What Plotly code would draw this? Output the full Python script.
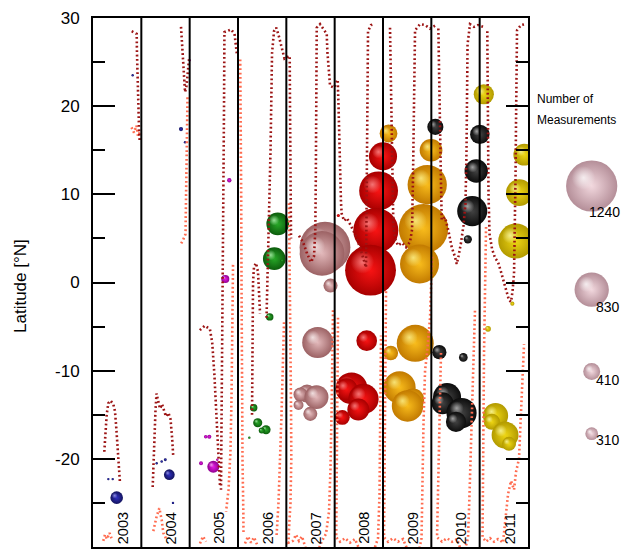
import plotly.graph_objects as go

# ---------------- cruise tracks (decimal year, latitude) ----------------
# dark red tracks
trk_2003a_t = [2003.801, 2003.904, 2003.910, 2003.921, 2003.931, 2003.952, 2003.966]
trk_2003a_lat = [28.5, 28.2, 26.0, 23.0, 20.0, 17.5, 16.0]
trk_2003b_t = [2003.234, 2003.259, 2003.283, 2003.317, 2003.362, 2003.420, 2003.455, 2003.482, 2003.507, 2003.532, 2003.559]
trk_2003b_lat = [-19.2, -17.0, -15.0, -13.7, -13.4, -13.8, -14.6, -16.5, -18.5, -20.5, -22.8]
trk_2004a_t = [2004.821, 2004.842, 2004.862, 2004.883, 2004.904, 2004.935, 2004.966, 2004.986]
trk_2004a_lat = [29.0, 27.0, 25.0, 23.0, 21.6, 22.3, 24.0, 25.3]
trk_2004b_t = [2004.235, 2004.252, 2004.273, 2004.293, 2004.314, 2004.345, 2004.386, 2004.428, 2004.469, 2004.510, 2004.562, 2004.604, 2004.635, 2004.661]
trk_2004b_lat = [-23.2, -20.0, -17.0, -14.5, -12.6, -13.3, -14.3, -13.8, -14.6, -15.2, -14.8, -15.5, -17.5, -19.8]
trk_2005a_t = [2005.975, 2005.955, 2005.928, 2005.857, 2005.719, 2005.711, 2005.700, 2005.690, 2005.679, 2005.669, 2005.659, 2005.648]
trk_2005a_lat = [26.0, 27.2, 28.2, 28.7, 28.4, 20.0, 12.0, 4.0, -3.0, -10.0, -17.0, -23.5]
trk_2005b_t = [2005.210, 2005.313, 2005.419, 2005.466, 2005.510, 2005.557, 2005.593, 2005.628]
trk_2005b_lat = [-5.4, -4.9, -5.3, -6.8, -10.3, -16.1, -20.0, -23.1]
trk_2006a_t = [2006.590, 2006.600, 2006.621, 2006.648, 2006.673, 2006.693, 2006.704, 2006.745, 2006.791, 2006.842,
               2006.884, 2006.925, 2006.962, 2007.024, 2007.070, 2007.076, 2007.082, 2007.089, 2007.097]
trk_2006a_lat = [-4.0, -2.0, 2.0, 8.0, 15.0, 22.0, 26.0, 28.5, 28.9, 28.0, 27.2, 26.2, 25.4, 25.6, 25.7, 20.0, 15.0, 10.0, 5.0]
trk_2006b_t = [2006.290, 2006.296, 2006.302, 2006.311, 2006.331, 2006.373, 2006.414, 2006.435, 2006.456]
trk_2006b_lat = [-15.0, -10.0, -5.0, 0.0, 1.8, 2.2, 1.2, -1.0, -3.5]
trk_2007_t = [2007.262, 2007.345, 2007.428, 2007.511, 2007.573, 2007.600, 2007.610, 2007.620, 2007.629, 2007.697,
              2007.765, 2007.836, 2007.848, 2007.869, 2007.904, 2007.987, 2008.063, 2008.080, 2008.090, 2008.101,
              2008.111, 2008.131, 2008.146, 2008.193, 2008.256, 2008.318, 2008.421, 2008.524, 2008.607, 2008.649,
              2008.659, 2008.669, 2008.680, 2008.690, 2008.752, 2008.814]
trk_2007_lat = [5.3, 4.6, 3.3, 2.3, 3.0, 6.0, 12.0, 20.0, 28.9, 29.3, 28.8, 28.2, 26.3, 24.5, 22.3, 22.1, 23.0, 20.0,
                16.9, 14.0, 11.2, 9.0, 7.8, 7.0, 7.3, 6.6, 5.5, 4.0, 2.5, 1.7, 8.0, 15.0, 22.0, 28.5, 29.2, 29.3]
trk_2009_t = [2009.145, 2009.160, 2009.176, 2009.197, 2009.214, 2009.249, 2009.311, 2009.394, 2009.476, 2009.559,
              2009.601, 2009.621, 2009.636, 2009.648, 2009.663, 2009.766, 2009.870, 2009.973, 2010.097]
trk_2009_lat = [28.9, 24.0, 18.0, 12.0, 6.5, 5.0, 4.2, 4.5, 4.0, 4.6, 6.0, 12.0, 18.0, 24.0, 28.6, 29.3, 29.2, 28.8, 29.2]
trk_2010_t = [2010.145, 2010.159, 2010.180, 2010.201, 2010.215, 2010.283, 2010.352, 2010.422, 2010.490, 2010.525,
              2010.563, 2010.614, 2010.666, 2010.707, 2010.728, 2010.738, 2010.749, 2010.800, 2010.883, 2010.966, 2011.069]
trk_2010_lat = [28.8, 23.0, 17.0, 11.0, 7.1, 7.4, 5.9, 4.0, 2.9, 2.1, 3.0, 4.5, 6.5, 9.0, 15.0, 21.0, 27.0, 29.3, 29.0, 29.2, 29.0]
trk_2011_t = [2011.158, 2011.162, 2011.173, 2011.183, 2011.204, 2011.256, 2011.318, 2011.380, 2011.442, 2011.504,
              2011.566, 2011.607, 2011.649, 2011.680, 2011.711, 2011.732, 2011.742, 2011.752, 2011.763, 2011.773,
              2011.856, 2011.938]
trk_2011_lat = [28.5, 22.0, 16.0, 10.0, 5.5, 3.8, 2.8, 2.3, 1.2, 0.0, -1.0, -2.0, -2.2, -1.0, 1.0, 6.0, 12.0, 18.0,
                24.0, 28.6, 29.2, 29.3]

# orange tracks
leg_2003a_t = [2003.797, 2003.848, 2003.900, 2003.931, 2003.983]
leg_2003a_lat = [17.6, 17.0, 17.8, 16.6, 17.2]
leg_2003b_t = [2003.213, 2003.248, 2003.290, 2003.341, 2003.383]
leg_2003b_lat = [-29.3, -28.6, -29.1, -28.4, -29.0]
leg_2004a_t = [2004.955, 2004.945, 2004.935, 2004.924, 2004.914, 2004.862, 2004.821]
leg_2004a_lat = [21.0, 17.0, 13.0, 9.0, 5.5, 4.8, 4.4]
leg_2004b_t = [2004.248, 2004.318, 2004.372, 2004.421, 2004.455, 2004.525]
leg_2004b_lat = [-28.2, -26.5, -25.6, -26.9, -28.4, -29.2]
leg_2005a_t = [2005.897, 2005.886, 2005.866, 2005.845, 2005.804, 2005.752]
leg_2005a_lat = [2.0, -6.0, -13.0, -19.0, -23.5, -26.0]
leg_2005b_t = [2005.214, 2005.276, 2005.338]
leg_2005b_lat = [-29.6, -28.8, -29.4]
leg_2006a_t = [2006.046, 2006.058, 2006.066, 2006.073, 2006.079, 2006.093, 2006.110, 2006.114]
leg_2006a_lat = [25.3, 20.0, 10.0, 0.0, -10.0, -20.0, -26.0, -28.5]
leg_2006b_t = [2006.145, 2006.207, 2006.269, 2006.331, 2006.393]
leg_2006b_lat = [-29.6, -28.8, -29.5, -28.9, -29.7]
leg_2006c_t = [2006.952, 2006.931, 2006.900, 2006.869, 2006.838, 2006.797]
leg_2006c_lat = [-4.5, -10.0, -15.0, -20.0, -25.0, -28.8]
leg_2007_t = [2007.055, 2007.066, 2007.076, 2007.086, 2007.097, 2007.103, 2007.086, 2007.055, 2007.045, 2007.138,
              2007.200, 2007.262, 2007.324, 2007.449, 2007.614, 2007.738, 2007.821, 2007.883, 2007.914, 2007.935,
              2007.956, 2007.966]
leg_2007_lat = [9.0, 4.0, -2.0, -8.0, -14.0, -20.0, -25.0, -28.0, -29.5, -29.3, -28.6, -29.3, -28.8, -31.0, -31.0,
                -29.3, -28.5, -26.0, -21.0, -15.0, -9.0, -3.0]
leg_2008_t = [2008.069, 2008.059, 2008.049, 2008.038, 2008.032, 2008.111, 2008.214, 2008.318, 2008.421, 2008.566,
              2008.773, 2008.897, 2008.928, 2008.938, 2008.949, 2008.959]
leg_2008_lat = [-4.0, -10.0, -17.0, -24.0, -28.9, -29.4, -29.0, -29.5, -29.1, -31.0, -31.0, -29.0, -24.0, -18.0, -12.0, -6.0]
leg_2009_t = [2009.062, 2009.052, 2009.042, 2009.031, 2009.021, 2009.104, 2009.207, 2009.311, 2009.414, 2009.559,
              2009.725, 2009.797, 2009.818, 2009.838, 2009.870, 2009.911, 2009.973, 2010.004, 2010.014]
leg_2009_lat = [-1.0, -8.0, -15.0, -22.0, -28.9, -29.4, -29.0, -29.4, -29.1, -31.0, -31.0, -29.0, -22.0, -16.0,
                -10.0, -8.0, -4.0, 0.0, 3.0]
leg_2010_t = [2010.200, 2010.180, 2010.159, 2010.139, 2010.118, 2010.221, 2010.325, 2010.428, 2010.531, 2010.656,
              2010.759, 2010.790, 2010.821, 2010.852, 2010.883, 2010.904]
leg_2010_lat = [-8.0, -14.0, -20.0, -25.0, -28.9, -29.4, -29.0, -29.4, -29.1, -31.0, -29.0, -24.0, -18.0, -12.0, -6.0, -3.0]
leg_2011_t = [2011.132, 2011.111, 2011.090, 2011.080, 2011.069, 2011.059, 2011.132, 2011.214, 2011.297, 2011.380,
              2011.483, 2011.545, 2011.587, 2011.649, 2011.711, 2011.752, 2011.814, 2011.845, 2011.876, 2011.918]
leg_2011_lat = [6.3, 0.0, -8.0, -15.0, -22.0, -28.9, -29.4, -29.0, -29.4, -29.1, -29.5, -26.0, -24.0, -22.5, -23.5,
                -21.5, -20.0, -16.0, -12.0, -7.0]

# ---------------- measurement bubbles (decimal year, latitude, count) ----------------
obs_2003_t = [2003.490, 2003.317, 2003.408, 2003.821]
obs_2003_lat = [-24.4, -22.3, -22.3, 23.5]
obs_2003_n = [305, 40, 40, 30]
obs_2004_t = [2004.579, 2004.318, 2004.421, 2004.496, 2004.821, 2004.904, 2004.655]
obs_2004_lat = [-21.8, -20.5, -20.3, -20.1, 17.4, 15.9, -25.0]
obs_2004_n = [260, 50, 60, 70, 100, 35, 30]
obs_2005_t = [2005.489, 2005.235, 2005.332, 2005.406, 2005.737, 2005.820, 2004.997, 2005.572]
obs_2005_lat = [-20.9, -20.5, -17.5, -17.5, 0.4, 11.6, 25.2, -20.1]
obs_2005_n = [290, 95, 85, 100, 195, 105, 40, 45]
obs_2006_t = [2006.822, 2006.751, 2006.911, 2006.656, 2006.325, 2006.408, 2006.580, 2006.491, 2006.234]
obs_2006_lat = [6.65, 2.7, 2.5, -3.9, -14.2, -15.9, -16.7, -16.8, -17.6]
obs_2006_n = [550, 550, 80, 180, 180, 220, 220, 145, 35]
obs_2007_t = [2007.800, 2007.738, 2007.991, 2007.914, 2007.649, 2007.624, 2007.428, 2007.293, 2007.252, 2007.496]
obs_2007_lat = [4.0, 3.3, 4.0, -0.35, -6.8, -13.0, -12.6, -12.7, -13.9, -14.9]
obs_2007_n = [1230, 1080, 170, 340, 750, 580, 435, 340, 240, 340]
obs_2008_t = [2008.742, 2008.851, 2008.909, 2009.000, 2008.663, 2008.349, 2008.245, 2008.597, 2008.489, 2008.158, 2008.076]
obs_2008_lat = [1.4, 5.9, 10.4, 14.3, -6.6, -12.0, -12.1, -13.2, -14.4, -15.3, 7.6]
obs_2008_n = [1230, 1090, 940, 680, 500, 770, 530, 730, 530, 360, 75]
obs_2009_t = [2009.114, 2009.994, 2009.915, 2009.838, 2009.756, 2009.667, 2009.160, 2009.342, 2009.218, 2009.507, 2009.404, 2009.621]
obs_2009_lat = [16.9, 15.0, 11.1, 6.1, 2.1, -6.9, -8.0, -11.9, -11.8, -14.0, -13.5, -13.3]
obs_2009_n = [430, 550, 950, 1195, 945, 895, 355, 780, 480, 760, 430, 540]
obs_2010_t = [2010.083, 2011.003, 2010.929, 2010.846, 2010.755, 2010.165, 2010.662, 2010.325, 2010.232, 2010.625, 2010.511]
obs_2010_lat = [17.65, 16.8, 12.65, 8.1, 4.9, -7.9, -8.5, -13.0, -13.7, -14.8, -15.8]
obs_2010_n = [390, 470, 565, 728, 200, 345, 210, 680, 530, 730, 490]
obs_2011_t = [2011.086, 2011.924, 2011.821, 2011.748, 2011.676, 2011.173, 2011.328, 2011.252, 2011.525, 2011.607]
obs_2011_lat = [21.35, 14.5, 10.2, 4.7, -2.4, -5.25, -15.1, -15.8, -17.3, -18.3]
obs_2011_n = [488, 530, 645, 850, 100, 140, 610, 390, 650, 340]

years = [2003, 2004, 2005, 2006, 2007, 2008, 2009, 2010, 2011]
lat_ticks = [-30, -20, -10, 0, 10, 20, 30]
lat_tick_text = ["-30", "-20", "-10", "0", "10", "20", "30"]
lat_minor = [-25, -15, -5, 5, 15, 25]

legend_counts = [1240, 830, 410, 310]
legend_rows = [186, 289.7, 371.5, 433.7]   # vertical slots of the size key (pixels from top)

FONT = "Liberation Sans, Arial, Helvetica, sans-serif"
SIZEREF = 24.2          # diameter in px = count / SIZEREF
PLOT_W = 435.0
PLOT_H = 529.0
FIG_W = 625
L_MARGIN = 93
DOMAIN_R = PLOT_W / (FIG_W - L_MARGIN)
PX_PER_YEAR = PLOT_W / 9.0
PX_PER_DEG = PLOT_H / 60.0

DARK = "#9c1414"
LIGHT = "#ff6b4f"

fig = go.Figure()


def sphere(x, y, n, base, rim, glow, xa="x", ya="y", px_x=PX_PER_YEAR, px_y=PX_PER_DEG, clip=True):
    """One shaded ball: a radial body plus a small soft specular spot up and to the left."""
    r = n / SIZEREF / 2.0
    fig.add_trace(go.Scatter(
        x=[x], y=[y], mode="markers", cliponaxis=clip,
        marker=dict(size=[n], sizemode="diameter", sizeref=SIZEREF, sizemin=1.2, opacity=1,
                    color=rim, gradient=dict(type="radial", color=base), line=dict(width=0)),
        showlegend=False, hoverinfo="skip", xaxis=xa, yaxis=ya))
    if r > 2.5:
        fig.add_trace(go.Scatter(
            x=[x - 0.32 * r / px_x], y=[y + 0.32 * r / px_y], mode="markers", cliponaxis=clip,
            marker=dict(size=[n * 0.46], sizemode="diameter", sizeref=SIZEREF, opacity=1,
                        color=glow.replace("A", "0"),
                        gradient=dict(type="radial", color=glow.replace("A", "0.75")), line=dict(width=0)),
            showlegend=False, hoverinfo="skip", xaxis=xa, yaxis=ya))


# bubbles first so the tracks and axes sit on top
bubble_sets = [
    (obs_2003_t, obs_2003_lat, obs_2003_n, "#3030c0", "#14145e", "rgba(170,170,255,A)"),
    (obs_2004_t, obs_2004_lat, obs_2004_n, "#3030c0", "#14145e", "rgba(170,170,255,A)"),
    (obs_2005_t, obs_2005_lat, obs_2005_n, "#e41ce4", "#900090", "rgba(255,190,255,A)"),
    (obs_2006_t, obs_2006_lat, obs_2006_n, "#28a828", "#0c5c0c", "rgba(190,255,190,A)"),
    (obs_2007_t, obs_2007_lat, obs_2007_n, "#e2b8ba", "#9c6264", "rgba(255,248,248,A)"),
    (obs_2008_t, obs_2008_lat, obs_2008_n, "#f81414", "#a80000", "rgba(255,150,150,A)"),
    (obs_2009_t, obs_2009_lat, obs_2009_n, "#f8bc1c", "#c27a00", "rgba(255,248,150,A)"),
    (obs_2010_t, obs_2010_lat, obs_2010_n, "#424242", "#0c0c0c", "rgba(200,200,200,A)"),
    (obs_2011_t, obs_2011_lat, obs_2011_n, "#eed614", "#b29a00", "rgba(255,255,180,A)"),
]
for t, lat, n, base, rim, glow in bubble_sets:
    for i in sorted(range(len(t)), key=lambda k: -lat[k]):
        sphere(t[i], lat[i], n[i], base, rim, glow)

dark_tracks = [(trk_2003a_t, trk_2003a_lat), (trk_2003b_t, trk_2003b_lat), (trk_2004a_t, trk_2004a_lat),
               (trk_2004b_t, trk_2004b_lat), (trk_2005a_t, trk_2005a_lat), (trk_2005b_t, trk_2005b_lat),
               (trk_2006a_t, trk_2006a_lat), (trk_2006b_t, trk_2006b_lat), (trk_2007_t, trk_2007_lat),
               (trk_2009_t, trk_2009_lat), (trk_2010_t, trk_2010_lat), (trk_2011_t, trk_2011_lat)]
light_tracks = [(leg_2003a_t, leg_2003a_lat), (leg_2003b_t, leg_2003b_lat), (leg_2004a_t, leg_2004a_lat),
                (leg_2004b_t, leg_2004b_lat), (leg_2005a_t, leg_2005a_lat), (leg_2005b_t, leg_2005b_lat),
                (leg_2006a_t, leg_2006a_lat), (leg_2006b_t, leg_2006b_lat), (leg_2006c_t, leg_2006c_lat),
                (leg_2007_t, leg_2007_lat), (leg_2008_t, leg_2008_lat), (leg_2009_t, leg_2009_lat),
                (leg_2010_t, leg_2010_lat), (leg_2011_t, leg_2011_lat)]
for tracks, col in ((light_tracks, LIGHT), (dark_tracks, DARK)):
    for t, lat in tracks:
        fig.add_trace(go.Scatter(
            x=t, y=lat, mode="lines",
            line=dict(color=col, width=2.6, dash="1.8px,2.6px"),
            showlegend=False, hoverinfo="skip", xaxis="x", yaxis="y"))

# size key (x2/y2 are plain pixel frames on the right-hand strip)
for cnt, row in zip(legend_counts, legend_rows):
    sphere(63.7, row, cnt, "#f2d8de", "#b48e98", "rgba(255,255,255,A)",
           xa="x2", ya="y2", px_x=1.0, px_y=-1.0, clip=False)

annotations = []
for cnt, row in zip(legend_counts, legend_rows):
    annotations.append(dict(
        x=94, y=row + cnt / SIZEREF / 2, xref="x2", yref="y2", text=str(cnt), showarrow=False,
        xanchor="right", yanchor="middle", font=dict(family=FONT, size=14, color="black")))

for yr in years:
    annotations.append(dict(
        x=yr + 0.62, y=-29.8, xref="x", yref="y", text=str(yr), showarrow=False, textangle=-90,
        xanchor="center", yanchor="bottom", borderpad=0, font=dict(family=FONT, size=14.5, color="black")))

annotations += [
    dict(x=(535 - L_MARGIN) / (FIG_W - L_MARGIN), y=(547 - 99) / PLOT_H, xref="paper", yref="paper",
         text="Number of", showarrow=False, xanchor="left", yanchor="middle",
         font=dict(family=FONT, size=12, color="black")),
    dict(x=(535 - L_MARGIN) / (FIG_W - L_MARGIN), y=(547 - 120) / PLOT_H, xref="paper", yref="paper",
         text="Measurements", showarrow=False, xanchor="left", yanchor="middle",
         font=dict(family=FONT, size=12, color="black")),
    dict(x=(20 - L_MARGIN) / (FIG_W - L_MARGIN), y=(547 - 286) / PLOT_H, xref="paper", yref="paper",
         text="Latitude [°N]", showarrow=False, textangle=-90, xanchor="center", yanchor="middle",
         font=dict(family=FONT, size=17, color="black")),
]

shapes = [dict(type="line", xref="x", yref="paper", x0=yr, x1=yr, y0=0, y1=1,
               line=dict(color="black", width=2)) for yr in years[1:]]

fig.update_layout(
    width=FIG_W, height=553,
    margin=dict(l=L_MARGIN, r=0, t=18, b=6),
    paper_bgcolor="white", plot_bgcolor="white",
    font=dict(family=FONT, color="black"),
    showlegend=False,
    xaxis=dict(domain=[0, DOMAIN_R], range=[years[0], years[-1] + 1], showgrid=False, zeroline=False,
               showticklabels=False, ticks="", showline=True, mirror=True, linecolor="black", linewidth=2),
    yaxis=dict(range=[-30, 30], tickmode="array", tickvals=lat_ticks, ticktext=lat_tick_text,
               ticks="inside", ticklen=22, tickwidth=2, tickcolor="black",
               minor=dict(tickmode="array", tickvals=lat_minor, ticks="inside", ticklen=12,
                          tickwidth=2, tickcolor="black", showgrid=False),
               showgrid=False, zeroline=False, showline=True, mirror="ticks", linecolor="black",
               linewidth=2, tickfont=dict(family=FONT, size=17, color="black"), ticklabelstandoff=8),
    xaxis2=dict(domain=[DOMAIN_R, 1], range=[0, FIG_W - L_MARGIN - PLOT_W], visible=False, anchor="y2"),
    yaxis2=dict(domain=[0, 1], range=[547, 18], visible=False, anchor="x2"),
    annotations=annotations,
    shapes=shapes,
)

fig.write_html("out.html")
